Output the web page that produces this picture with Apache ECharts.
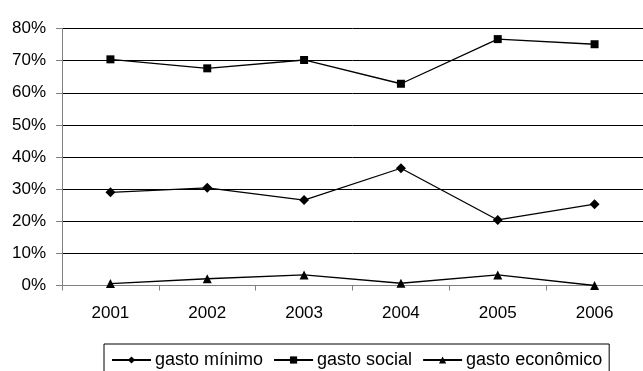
<!DOCTYPE html>
<html>
<head>
<meta charset="utf-8">
<script src="https://cdn.jsdelivr.net/npm/echarts@6/dist/echarts.min.js"></script>
<style>html,body{margin:0;padding:0;background:#fff;}#c{width:643px;height:371px;}</style>
</head>
<body>
<div id="c"></div>
<script>
var categories = ['2001', '2002', '2003', '2004', '2005', '2006'];
var gastoMinimo = [29.0, 30.4, 26.6, 36.5, 20.4, 25.3];
var gastoSocial = [70.4, 67.6, 70.2, 62.8, 76.7, 75.1];
var gastoEconomico = [0.6, 2.1, 3.3, 0.7, 3.3, 0.0];
var seriesNames = ['gasto mínimo', 'gasto social', 'gasto econômico'];

var chart = echarts.init(document.getElementById('c'), null, {renderer: 'canvas'});
var font = 'Liberation Sans, Arial, sans-serif';
function mk(name, data, symbol, size) {
  return {
    name: name, type: 'line', data: data, symbol: symbol, symbolSize: size,
    showAllSymbol: true,
    lineStyle: {color: '#000', width: 1.3},
    itemStyle: {color: '#000'},
    emphasis: {disabled: true},
    animation: false
  };
}
chart.setOption({
  animation: false,
  grid: {left: 62, right: -11, top: 28.5, bottom: 85.5, containLabel: false},
  xAxis: {
    type: 'category', data: categories, boundaryGap: true,
    axisLine: {lineStyle: {color: '#808080', width: 1}},
    axisTick: {show: true, length: 5, lineStyle: {color: '#808080'}},
    axisLabel: {color: '#000', fontFamily: font, fontSize: 17, margin: 19}
  },
  yAxis: {
    type: 'value', min: 0, max: 80, interval: 10,
    axisLine: {show: true, lineStyle: {color: '#808080', width: 1}},
    axisTick: {show: true, length: 6, lineStyle: {color: '#808080'}},
    splitLine: {lineStyle: {color: '#000', width: 1}},
    axisLabel: {color: '#000', fontFamily: font, fontSize: 17, margin: 16, formatter: '{value}%'}
  },
  legend: {
    data: seriesNames, left: 104, top: 344,
    padding: [7, 7, 7, 7], itemGap: 10, itemWidth: 39, itemHeight: 9,
    borderColor: '#000', borderWidth: 1,
    textStyle: {color: '#000', fontFamily: font, fontSize: 18, padding: [0,0,0,-1]}
  },
  series: [
    mk(seriesNames[0], gastoMinimo, 'diamond', 10),
    mk(seriesNames[1], gastoSocial, 'rect', 8),
    mk(seriesNames[2], gastoEconomico, 'triangle', 9)
  ]
});
</script>
</body>
</html>
